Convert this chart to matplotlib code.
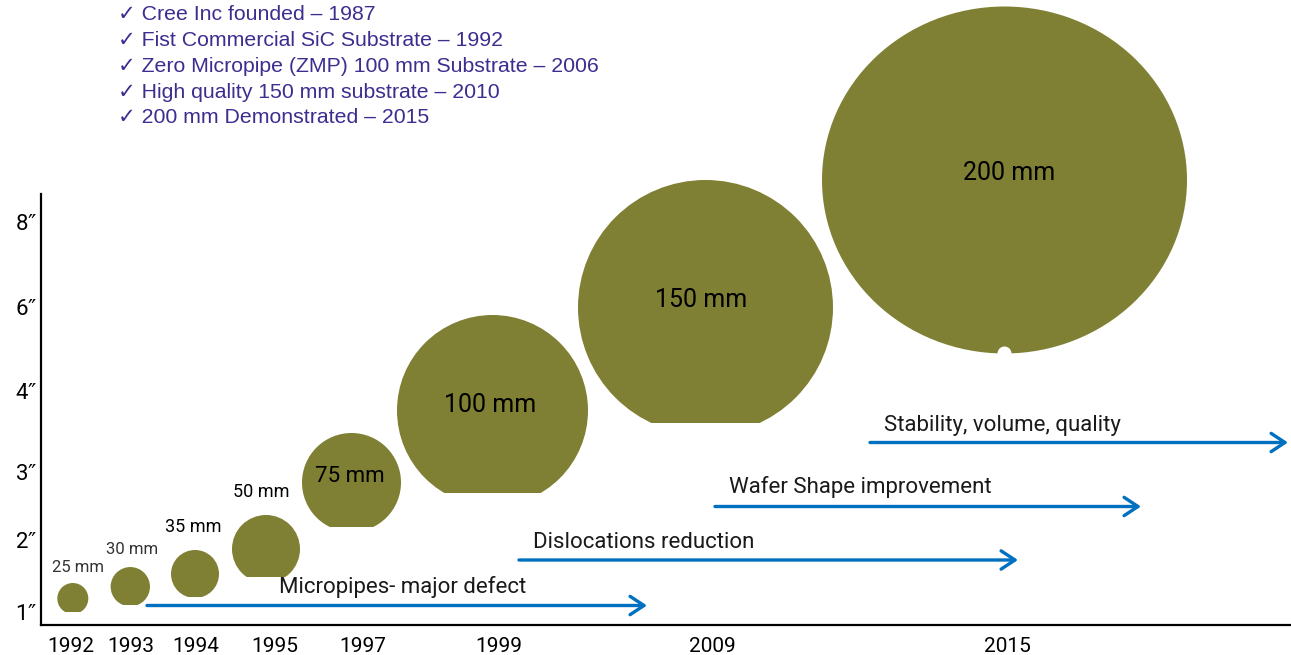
import matplotlib
matplotlib.use("Agg")
import matplotlib.pyplot as plt
from matplotlib.patches import Circle, Ellipse, Rectangle

plt.rcParams['font.family'] = ['Roboto', 'DejaVu Sans']

# data
years = ['1992', '1993', '1994', '1995', '1997', '1999', '2009', '2015']
wafer_mm = [25, 30, 35, 50, 75, 100, 150, 200]
inch_labels = ['1$″$', '2$″$', '3$″$', '4$″$', '6$″$', '8$″$']
milestones = ['✓ Cree Inc founded – 1987',
              '✓ Fist Commercial SiC Substrate – 1992',
              '✓ Zero Micropipe (ZMP) 100 mm Substrate – 2006',
              '✓ High quality 150 mm substrate – 2010',
              '✓ 200 mm Demonstrated – 2015']
trends = ['Micropipes- major defect', 'Dislocations reduction',
          'Wafer Shape improvement', 'Stability, volume, quality']

# layout (page pixels, y downwards)
year_x = [71, 130.5, 196, 274.5, 363, 498.5, 712, 1007]
inch_y = [612, 540, 472, 391, 307, 222]
wafer_cx = [72.8, 130.3, 195, 266, 351.5, 492.5, 705.5, 1004.5]
wafer_cy = [598.5, 586.7, 574, 549, 482.5, 410.5, 307.5, 180]
wafer_d = [31, 39.3, 48, 68, 99, 191, 255, 365]
wafer_flat = [612, 605, 597, 577, 527, 493, 423, None]
lab_xy = [(78, 567), (132, 549), (193, 527), (261, 492),
          (350, 477), (490, 405), (701, 300), (1009, 173)]
lab_size = [12, 12, 13, 13, 16, 18, 18, 18]
lab_color = ['#333333', '#333333', 'black', 'black', 'black', 'black', 'black', 'black']
arrow_x0 = [147, 519, 715, 870]
arrow_x1 = [647, 1018, 1141, 1288]
arrow_y = [605.5, 560, 506.5, 442.5]
trend_xy = [(279, 587), (533, 543), (729, 487), (884, 425)]

olive = '#7F8033'
blue = '#0070C0'

fig = plt.figure(figsize=(12.91, 6.55), dpi=100)
ax = fig.add_axes([41 / 1291, 30 / 655, 1250 / 1291, 431 / 655])
ax.set_xlim(41, 1291)
ax.set_ylim(625, 194)

for i in range(len(wafer_mm)):
    r = wafer_d[i] / 2
    if wafer_flat[i] is None:
        w = Ellipse((wafer_cx[i], wafer_cy[i]), wafer_d[i], 347, color=olive, lw=0)
        ax.add_patch(w)
        w.set_clip_on(False)
        notch = Circle((wafer_cx[i], wafer_cy[i] + 173.5), 7, color='white', lw=0, zorder=3)
        ax.add_patch(notch)
        notch.set_clip_on(False)
    else:
        w = Circle((wafer_cx[i], wafer_cy[i]), r, color=olive, lw=0)
        ax.add_patch(w)
        top = wafer_cy[i] - r - 2
        clip = Rectangle((wafer_cx[i] - r - 2, top), 2 * r + 4, wafer_flat[i] - top,
                         transform=ax.transData)
        w.set_clip_path(clip)
    ax.text(lab_xy[i][0], lab_xy[i][1], f'{wafer_mm[i]} mm', ha='center', va='center',
            fontsize=lab_size[i], color=lab_color[i], zorder=4)

for i in range(len(trends)):
    ax.annotate('', xy=(arrow_x1[i], arrow_y[i]), xytext=(arrow_x0[i], arrow_y[i]),
                annotation_clip=False,
                arrowprops=dict(arrowstyle='->,head_length=0.5,head_width=0.33', lw=2.4,
                                color=blue, shrinkA=0, shrinkB=0, mutation_scale=20))
    ax.text(trend_xy[i][0], trend_xy[i][1], trends[i], ha='left', va='center',
            fontsize=16, color='#1a1a1a')

for i, m in enumerate(milestones):
    ax.text(118, 15 + i * 25.7, m, ha='left', va='center', fontsize=15.3,
            color='#3C2D8F', family=['Liberation Sans', 'DejaVu Sans'])

ax.set_xticks(year_x, years)
ax.set_yticks(inch_y, inch_labels)
ax.tick_params(axis='both', length=0, labelsize=15, colors='black')
ax.tick_params(axis='x', pad=9)
ax.tick_params(axis='y', pad=3, labelsize=16)
ax.spines['top'].set_visible(False)
ax.spines['right'].set_visible(False)
ax.spines['left'].set_linewidth(1.6)
ax.spines['bottom'].set_linewidth(1.6)

fig.savefig('out.png', dpi=100)
